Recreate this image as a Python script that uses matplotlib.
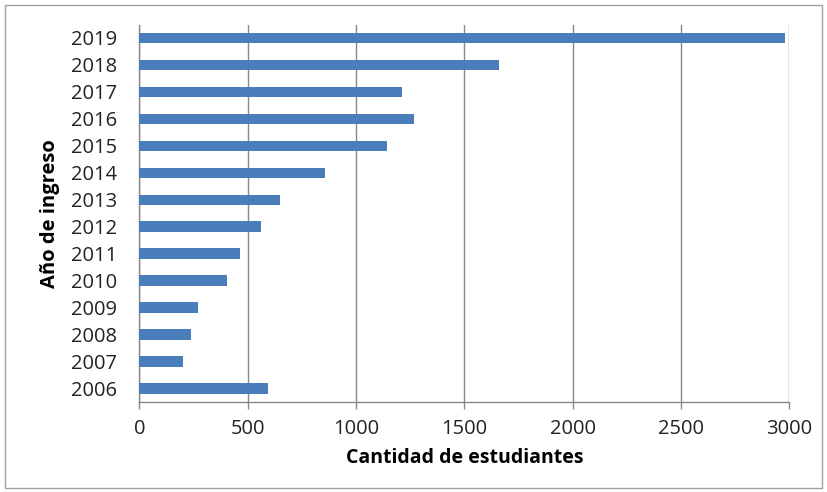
import matplotlib
matplotlib.use("Agg")
import matplotlib.pyplot as plt
from matplotlib.patches import Rectangle

years = ["2006", "2007", "2008", "2009", "2010", "2011", "2012",
         "2013", "2014", "2015", "2016", "2017", "2018", "2019"]
students = [591, 203, 240, 272, 406, 464, 559,
            649, 854, 1141, 1268, 1212, 1658, 2979]
x_ticks = [0, 500, 1000, 1500, 2000, 2500, 3000]
x_label = "Cantidad de estudiantes"
y_label = "Año de ingreso"

plt.rcParams['font.family'] = ['Open Sans', 'DejaVu Sans']

fig = plt.figure(figsize=(8.28, 4.92), dpi=100)
fig.patch.set_facecolor("white")

# outer chart frame
fig.add_artist(Rectangle((5 / 828, (492 - 488) / 492), (822 - 5) / 828, (488 - 5) / 492,
                         transform=fig.transFigure, fill=False,
                         edgecolor="#a0a0a0", linewidth=1.0))

ax = fig.add_axes([139.5 / 828, (492 - 402) / 492, 650 / 828, (402 - 24.5) / 492])

pos = list(range(len(years)))
ax.barh(pos, students, height=0.39, color="#4A7EBB", zorder=3)

ax.set_xlim(0, 3000)
ax.set_ylim(-0.5, len(years) - 0.5)
ax.set_xticks(x_ticks)
ax.set_xticklabels([str(t) for t in x_ticks], fontsize=14.5, color="#222222")
ax.set_yticks(pos)
ax.set_yticklabels(years, fontsize=14.5, color="#222222")

ax.grid(axis="x", color="#888888", linewidth=1.0, zorder=0)
ax.grid(axis="y", visible=False)

for s in ["top", "right"]:
    ax.spines[s].set_visible(False)
ax.spines["left"].set_color("#888888")
ax.spines["bottom"].set_color("#888888")
ax.spines["left"].set_linewidth(1.0)
ax.spines["bottom"].set_linewidth(1.0)

ax.tick_params(axis="x", direction="out", length=5, width=1.0, color="#888888", pad=7)
ax.tick_params(axis="y", length=0, pad=16)

ax.set_xlabel(x_label, fontsize=14, fontweight="bold", labelpad=7)
ax.set_ylabel(y_label, fontsize=14.5, fontweight="bold", labelpad=8)

fig.savefig("out.png", dpi=100, facecolor="white")
